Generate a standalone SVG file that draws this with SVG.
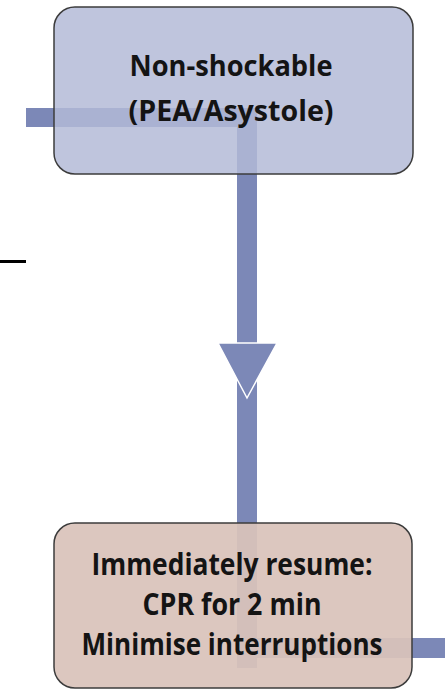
<svg xmlns="http://www.w3.org/2000/svg" width="445" height="690" viewBox="0 0 445 690">
<style>
.bar{fill:#7c88b7}
.box{stroke:#3c3c3c;stroke-width:1.5}
.lbl{font-family:"Open Sans","DejaVu Sans",sans-serif;font-weight:700;fill:#141414;text-anchor:middle}
</style>
<rect width="445" height="690" fill="#ffffff"/>
<g id="connectors">
<rect class="bar" x="26" y="108" width="231" height="19"/>
<rect class="bar" x="237" y="108" width="20" height="560"/>
<rect class="bar" x="237" y="638" width="208" height="20"/>
<polygon points="218,343 277,343 247,398" fill="#7c88b7" stroke="#ffffff" stroke-width="1.5"/>
<rect x="0" y="260" width="26" height="3" fill="#000000"/>
</g>
<g id="node-nonshockable">
<rect class="box" x="54" y="7" width="359" height="167" rx="21" fill="#b3bad6" fill-opacity="0.84"/>
<text class="lbl" font-size="29" x="231" y="76" textLength="203" lengthAdjust="spacingAndGlyphs">Non-shockable</text>
<text class="lbl" font-size="29" x="231" y="121" textLength="205" lengthAdjust="spacingAndGlyphs">(PEA/Asystole)</text>
</g>
<g id="node-resume">
<rect class="box" x="54" y="523" width="358" height="165" rx="21" fill="#d9c3ba" fill-opacity="0.93"/>
<text class="lbl" font-size="31" x="232" y="575" textLength="281" lengthAdjust="spacingAndGlyphs">Immediately resume:</text>
<text class="lbl" font-size="31" x="232" y="615" textLength="179" lengthAdjust="spacingAndGlyphs">CPR for 2 min</text>
<text class="lbl" font-size="31" x="232" y="655" textLength="301" lengthAdjust="spacingAndGlyphs">Minimise interruptions</text>
</g>
</svg>
